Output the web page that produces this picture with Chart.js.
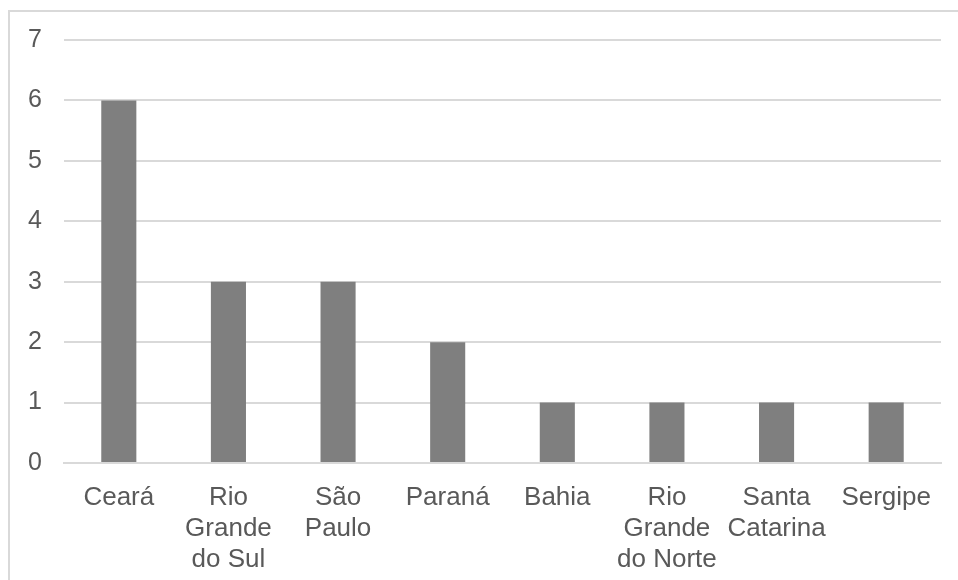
<!DOCTYPE html>
<html>
<head>
<meta charset="utf-8">
<title>Estados</title>
<script src="https://cdn.jsdelivr.net/npm/chart.js@4/dist/chart.umd.min.js"></script>
<style>
    html, body { margin: 0; padding: 0; background: #fff; overflow: hidden; }
    #frame {
        position: absolute; left: 8px; top: 10px;
        width: 1000px; height: 640px;
        border: 2px solid #d9d9d9;
    }
    #chart { position: absolute; left: 0; top: 0; }
</style>
</head>
<body>
<div id="frame"></div>
<canvas id="chart" width="958" height="580"></canvas>
<script>
// Data
const states = [
    'Ceará',
    ['Rio', 'Grande', 'do Sul'],
    ['São', 'Paulo'],
    'Paraná',
    'Bahia',
    ['Rio', 'Grande', 'do Norte'],
    ['Santa', 'Catarina'],
    'Sergipe'
];
const counts = [6, 3, 3, 2, 1, 1, 1, 1];
const yMax = 7;

const textColor = '#595959';
const gridColor = '#d9d9d9';
const family = "'Liberation Sans', Arial, sans-serif";

new Chart(document.getElementById('chart').getContext('2d'), {
    type: 'bar',
    data: {
        labels: states,
        datasets: [{
            data: counts,
            backgroundColor: '#7f7f7f',
            barPercentage: 0.32,
            categoryPercentage: 1
        }]
    },
    options: {
        responsive: false,
        animation: false,
        layout: { padding: { top: 40, right: 17, bottom: 0, left: 0 } },
        plugins: { legend: { display: false }, tooltip: { enabled: false } },
        scales: {
            x: {
                grid: { display: false },
                border: { color: gridColor, width: 2 },
                ticks: {
                    color: textColor,
                    font: { family: family, size: 26, lineHeight: 1.2 },
                    padding: 11, maxRotation: 0, autoSkip: false
                },
                afterFit: (scale) => { scale.height = 117; }
            },
            y: {
                min: 0,
                max: yMax,
                grid: { color: gridColor, lineWidth: 2, drawTicks: false },
                border: { display: false },
                ticks: { stepSize: 1, color: textColor, font: { family: family, size: 25 }, padding: 22 },
                afterFit: (scale) => { scale.width = 64; }
            }
        }
    }
});
</script>
</body>
</html>
